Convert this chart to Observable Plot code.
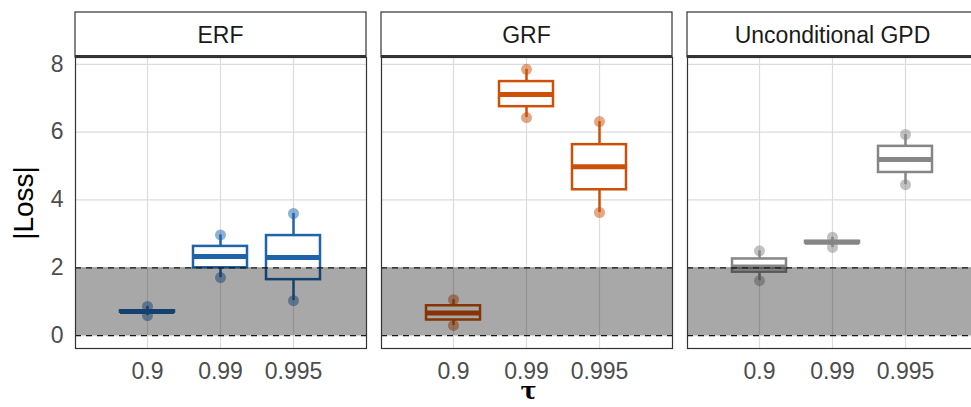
<!DOCTYPE html>
<html><head><meta charset="utf-8">
<script src="https://cdn.jsdelivr.net/npm/d3@7"></script>
<script src="https://cdn.jsdelivr.net/npm/@observablehq/plot@0.6"></script>
<style>html,body{margin:0;padding:0;background:#fff;overflow:hidden;width:971px;height:407px}
svg{max-width:none !important;}</style>
</head><body><div id="chart"></div>
<script>
// Facets (models) and x categories (tau)
const models = ["ERF", "GRF", "Unconditional GPD"];
const taus = ["0.9", "0.99", "0.995"];
const colors = ["#1f63a8", "#cc5008", "#868686"];
// Box summaries, model-major order: ERF(0.9,0.99,0.995), GRF(...), GPD(...)
const lo  = [0.59, 1.71, 1.03,  0.30, 6.43, 3.63,  1.62, 2.60, 4.45];
const q1  = [0.69, 2.00, 1.65,  0.46, 6.75, 4.30,  1.87, 2.73, 4.81];
const med = [0.71, 2.33, 2.30,  0.67, 7.11, 4.98,  2.02, 2.75, 5.19];
const q3  = [0.73, 2.63, 2.95,  0.88, 7.49, 5.63,  2.26, 2.78, 5.58];
const hi  = [0.86, 2.97, 3.60,  1.06, 7.85, 6.31,  2.50, 2.90, 5.93];
const yTicks = [0, 2, 4, 6, 8];
const band = [0, 2];

const rows = [];
models.forEach((m, i) => taus.forEach((t, j) => {
  const k = i * 3 + j;
  rows.push({model: m, tau: t, lo: lo[k], q1: q1[k], med: med[k], q3: q3[k], hi: hi[k]});
}));

const W = 980, H = 407, ML = 75, MR = 2, MT = 57, MB = 59;
const font = "'Liberation Sans', Arial, Helvetica, sans-serif";

const plot = Plot.plot({
  width: W, height: H, marginLeft: ML, marginRight: MR, marginTop: MT, marginBottom: MB,
  style: {fontFamily: font, fontSize: "23px", color: "#4d4d4d", background: "#fff", maxWidth: "none"},
  fx: {domain: models, paddingInner: 0.05, paddingOuter: 0, axis: null, label: null},
  x: {domain: taus, paddingInner: 0.26, paddingOuter: 0.623, tickSize: 0, tickPadding: 14, label: null},
  y: {domain: [-0.38, 8.2], ticks: yTicks, tickSize: 0, tickPadding: 12, label: null},
  color: {domain: models, range: colors},
  marks: [
    Plot.ruleY(yTicks, {stroke: "#dcdcdc", strokeWidth: 1.2}),
    Plot.ruleX(taus, {x: d => d, stroke: "#dcdcdc", strokeWidth: 1.2}),
    Plot.ruleX(rows, {fx: "model", x: "tau", y1: "lo", y2: "q1", stroke: "model", strokeWidth: 2.5}),
    Plot.ruleX(rows, {fx: "model", x: "tau", y1: "q3", y2: "hi", stroke: "model", strokeWidth: 2.5}),
    Plot.barY(rows, {fx: "model", x: "tau", y1: "q1", y2: "q3", fill: "white", stroke: "model", strokeWidth: 2.5}),
    Plot.tickY(rows, {fx: "model", x: "tau", y: "med", stroke: "model", strokeWidth: 5}),
    Plot.dot(rows, {fx: "model", x: "tau", y: "lo", fill: "model", fillOpacity: 0.5, r: 5.5}),
    Plot.dot(rows, {fx: "model", x: "tau", y: "hi", fill: "model", fillOpacity: 0.5, r: 5.5}),
    Plot.rect([band], {y1: d => d[0], y2: d => d[1], fill: "black", fillOpacity: 0.34}),
    Plot.ruleY(band, {stroke: "#1a1a1a", strokeWidth: 1.2, strokeDasharray: "6,5"}),
    Plot.frame({stroke: "#333", strokeWidth: 1.2})
  ]
});

document.getElementById("chart").appendChild(plot);

// Facet strips
const svg = d3.select(plot);
const fxs = plot.scale("fx");
const fb = d3.scaleBand().domain(models).range([ML, W - MR]).paddingInner(0.05).paddingOuter(0);
const fpos = m => (fxs && fxs.apply) ? fxs.apply(m) : fb(m);
const bw = (fxs && fxs.bandwidth) ? fxs.bandwidth : fb.bandwidth();
const strips = svg.append("g");
models.forEach(m => {
  const x0 = fpos(m);
  strips.append("rect").attr("x", x0).attr("y", 12).attr("width", bw).attr("height", MT - 12)
    .attr("fill", "white").attr("stroke", "#333").attr("stroke-width", 1.2);
  strips.append("line").attr("x1", x0).attr("x2", x0 + bw).attr("y1", MT - 1).attr("y2", MT - 1)
    .attr("stroke", "#333").attr("stroke-width", 2);
  strips.append("text").attr("x", x0 + bw / 2).attr("y", 43).attr("text-anchor", "middle")
    .attr("font-family", font).attr("font-size", 23).attr("fill", "#1a1a1a").text(m);
});
// Axis titles
svg.append("text").attr("transform", "translate(33,203) rotate(-90)").attr("text-anchor", "middle")
  .attr("font-family", font).attr("font-size", 28).attr("fill", "#000").text("|Loss|");
const fAll = models.map(fpos);
const midX = (fAll[0] + fAll[2] + bw) / 2 + 2;
svg.append("text").attr("x", midX).attr("y", 399).attr("text-anchor", "middle")
  .attr("font-family", "'DejaVu Serif', 'Liberation Serif', serif").attr("font-weight", "bold")
  .attr("font-size", 24).attr("fill", "#000").text("τ");
</script>
</body></html>
